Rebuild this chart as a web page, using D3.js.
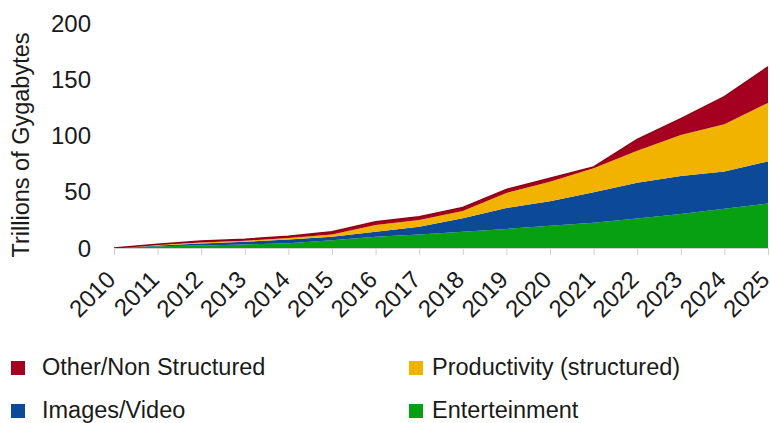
<!DOCTYPE html>
<html lang="en">
<head>
<meta charset="utf-8">
<title>Data growth by type</title>
<script src="https://d3js.org/d3.v7.min.js"></script>
<style>
  body { margin: 0; background: #fff; }
  svg { display: block; font-family: "Liberation Sans", Arial, sans-serif; }
</style>
</head>
<body>
<div id="chart"></div>
<script>
// years along the x axis
var years = d3.range(2010, 2026);

// each layer's own amount, trillions of gigabytes
var entertainment = [0, 1.5, 2.2, 3.2, 4.3, 6.8, 10, 12, 14.5, 16.9, 19.7, 22.5, 26.2, 30.2, 35, 39.5];
var imagesVideo   = [0, 0.8, 1.8, 2.3, 3.2, 3.2, 4.5, 7, 11.9, 18.6, 21.8, 27, 31.8, 33.8, 33, 37.5];
var productivity  = [0, 0.5, 1, 1, 1.3, 2, 5.9, 6, 6.6, 13.5, 17.5, 21.5, 28.5, 36.4, 42, 52];
var other         = [0, 0.5, 1.2, 1.3, 1.7, 2.5, 3, 2.8, 3, 3, 3, 1, 10, 14.6, 24.5, 32];

var yTicks = [0, 50, 100, 150, 200];

var seriesKeys = ["ent", "img", "prod", "other"];
var seriesNames = {
  other: "Other/Non Structured",
  prod: "Productivity (structured)",
  img: "Images/Video",
  ent: "Enterteinment"
};
var colors = { ent: "#06a012", img: "#0c4a98", prod: "#f2b200", other: "#a5001f" };

var w = 770, h = 423;

var rows = years.map(function(y, i) {
  return { year: y, ent: entertainment[i], img: imagesVideo[i], prod: productivity[i], other: other[i] };
});

var stacked = d3.stack().keys(seriesKeys)(rows);

var x = d3.scaleLinear().domain([2010, 2025]).range([114, 768]);
var y = d3.scaleLinear().domain([0, 200]).range([248, 23]);

var svg = d3.select("#chart").append("svg")
  .attr("width", w)
  .attr("height", h);

var area = d3.area()
  .x(function(d) { return x(d.data.year); })
  .y0(function(d) { return y(d[0]); })
  .y1(function(d) { return y(d[1]); });

svg.selectAll("path.layer")
  .data(stacked)
  .enter()
  .append("path")
  .attr("class", "layer")
  .attr("d", area)
  .attr("fill", function(d) { return colors[d.key]; });

// thin dark outline on top of the stack
var topLine = d3.line()
  .x(function(d) { return x(d.data.year); })
  .y(function(d) { return y(d[1]); });

svg.append("path")
  .datum(stacked[stacked.length - 1])
  .attr("d", topLine)
  .attr("fill", "none")
  .attr("stroke", "#8e0014")
  .attr("stroke-width", 1.5);

// x axis: light baseline with small ticks
var xAxis = svg.append("g")
  .attr("transform", "translate(0," + y(0) + ")")
  .call(d3.axisBottom(x).tickValues(years).tickSize(7).tickFormat(""));

xAxis.select(".domain").attr("stroke", "#d0d0d0");
xAxis.selectAll(".tick line").attr("stroke", "#d0d0d0");

svg.selectAll("text.xlab")
  .data(years)
  .enter()
  .append("text")
  .attr("class", "xlab")
  .attr("transform", function(d) { return "translate(" + (x(d) + 3) + ",281) rotate(-45)"; })
  .attr("text-anchor", "end")
  .attr("font-size", "24px")
  .attr("fill", "#1a1a1a")
  .text(function(d) { return d; });

// y tick labels, no axis line
svg.selectAll("text.ylab")
  .data(yTicks)
  .enter()
  .append("text")
  .attr("class", "ylab")
  .attr("x", 91)
  .attr("y", function(d) { return y(d); })
  .attr("dy", "0.36em")
  .attr("text-anchor", "end")
  .attr("font-size", "24px")
  .attr("fill", "#1a1a1a")
  .text(function(d) { return d; });

svg.append("text")
  .attr("transform", "translate(29,145) rotate(-90)")
  .attr("text-anchor", "middle")
  .attr("font-size", "23.5px")
  .attr("fill", "#1a1a1a")
  .text("Trillions of Gygabytes");

// legend, two columns
var legendOrder = ["other", "prod", "img", "ent"];
var legend = svg.selectAll("g.leg")
  .data(legendOrder)
  .enter()
  .append("g")
  .attr("class", "leg")
  .attr("transform", function(d, i) {
    var lx = (i % 2 === 0) ? 11 : 409;
    var ly = 361 + Math.floor(i / 2) * 43;
    return "translate(" + lx + "," + ly + ")";
  });

legend.append("rect")
  .attr("width", 14)
  .attr("height", 14)
  .attr("fill", function(d) { return colors[d]; });

legend.append("text")
  .attr("x", function(d, i) { return (i % 2 === 0) ? 31 : 23; })
  .attr("y", 14)
  .attr("font-size", "23.5px")
  .attr("fill", "#1a1a1a")
  .text(function(d) { return seriesNames[d]; });
</script>
</body>
</html>
